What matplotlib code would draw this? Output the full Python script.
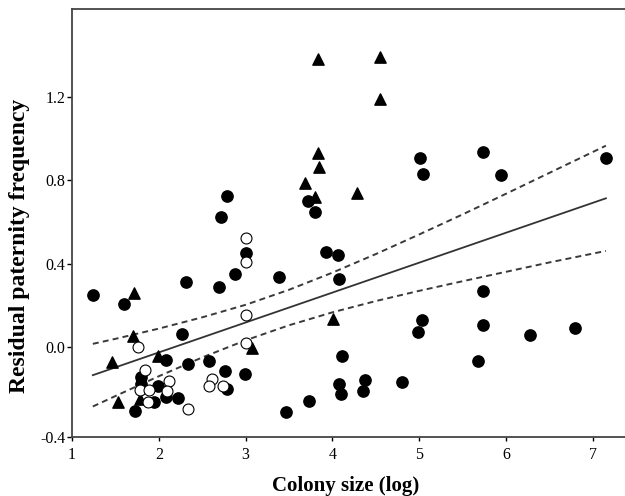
import matplotlib.pyplot as plt

plt.rcParams['font.family'] = ['Liberation Serif', 'DejaVu Serif']
plt.rcParams['lines.scale_dashes'] = False

# filled circles
full_x = [1.24, 1.60, 2.31, 2.69, 2.72, 2.79, 2.88, 3.00, 3.38, 3.72, 3.80, 3.93,
          4.06, 4.08, 5.01, 5.04, 5.73, 5.94, 7.15, 5.73, 5.03, 4.99, 5.73, 5.68,
          6.28, 6.79, 4.11, 4.08, 4.10, 4.38, 4.35, 4.80, 3.73, 3.47, 2.27, 2.08,
          2.34, 2.58, 2.76, 2.99, 1.80, 1.80, 1.99, 2.78, 2.08, 2.22, 1.94, 1.72]
full_y = [0.248, 0.206, 0.313, 0.286, 0.622, 0.724, 0.349, 0.449, 0.337, 0.700,
          0.649, 0.457, 0.441, 0.328, 0.906, 0.830, 0.934, 0.824, 0.906, 0.270,
          0.129, 0.072, 0.104, -0.067, 0.058, 0.090, -0.042, -0.174, -0.224,
          -0.155, -0.208, -0.169, -0.260, -0.312, 0.062, -0.062, -0.082, -0.067,
          -0.114, -0.129, -0.142, -0.174, -0.187, -0.198, -0.238, -0.241, -0.262,
          -0.306]

# open circles
open_x = [3.00, 3.00, 3.00, 3.00, 1.76, 1.84, 2.12, 2.61, 2.58, 2.74, 1.78, 1.89,
          2.10, 1.88, 2.34]
open_y = [0.521, 0.406, 0.153, 0.022, -0.001, -0.107, -0.162, -0.150, -0.186,
          -0.185, -0.203, -0.203, -0.210, -0.262, -0.295]

# triangles
tri_x = [1.71, 1.70, 1.46, 1.99, 1.78, 1.53, 3.07, 4.01, 3.68, 3.80, 3.83, 3.84,
         4.28, 3.83, 4.55, 4.55]
tri_y = [0.260, 0.055, -0.073, -0.041, -0.248, -0.262, -0.005, 0.134, 0.788,
         0.721, 0.929, 0.862, 0.737, 1.380, 1.389, 1.189]

# regression line and 95% band
fit_x = [1.24, 7.15]
fit_y = [-0.134, 0.713]
band_x = [1.24, 1.5, 2.0, 2.5, 3.0, 3.5, 4.0, 4.5, 5.0, 5.5, 6.0, 6.5, 7.15]
band_hi = [0.016, 0.040, 0.089, 0.143, 0.203, 0.275, 0.357, 0.446, 0.540, 0.636,
           0.735, 0.835, 0.965]
band_lo = [-0.284, -0.234, -0.139, -0.049, 0.033, 0.105, 0.167, 0.221, 0.270,
           0.316, 0.361, 0.406, 0.461]

x_ticks = [1, 2, 3, 4, 5, 6, 7]
y_ticks = [-0.43, 0.0, 0.4, 0.8, 1.2]
y_labels = ['-0.4', '0.0', '0.4', '0.8', '1.2']

fig = plt.figure(figsize=(6.25, 4.96), dpi=100)
ax = fig.add_axes([0.1152, 0.119, 0.8848, 0.863])

ax.plot(fit_x, fit_y, color='#333333', lw=1.3, zorder=2)
ax.plot(band_x, band_hi, color='#3a3a3a', lw=1.4, linestyle=(0, (4.3, 3.0)), zorder=2)
ax.plot(band_x, band_lo, color='#3a3a3a', lw=1.4, linestyle=(0, (4.3, 3.0)), zorder=2)

ax.scatter(full_x, full_y, s=66, color='black', zorder=3)
ax.scatter(tri_x, tri_y, s=66, marker='^', color='black', zorder=4)
ax.scatter(open_x, open_y, s=62, facecolor='white', edgecolor='black',
           linewidth=0.8, zorder=5)

ax.set_xlim(1, 7.37)
ax.set_ylim(-0.43, 1.62)
ax.set_xticks(x_ticks)
ax.set_yticks(y_ticks)
ax.set_yticklabels(y_labels)
ax.tick_params(axis='x', direction='out', length=3, width=1, pad=4, labelsize=11.5)
ax.tick_params(axis='y', direction='out', length=3.5, width=1, pad=1, labelsize=11.5)

for side in ['left', 'bottom', 'top']:
    ax.spines[side].set_color('#444444')
    ax.spines[side].set_linewidth(1.3)
ax.spines['right'].set_visible(False)

ax.set_xlabel('Colony size (log)', fontsize=15, fontweight='bold')
ax.set_ylabel('Residual paternity frequency', fontsize=17, fontweight='bold')
ax.xaxis.set_label_coords(0.495, -0.092)
ax.yaxis.set_label_coords(-0.076, 0.446)

plt.savefig('out.png', dpi=100)
